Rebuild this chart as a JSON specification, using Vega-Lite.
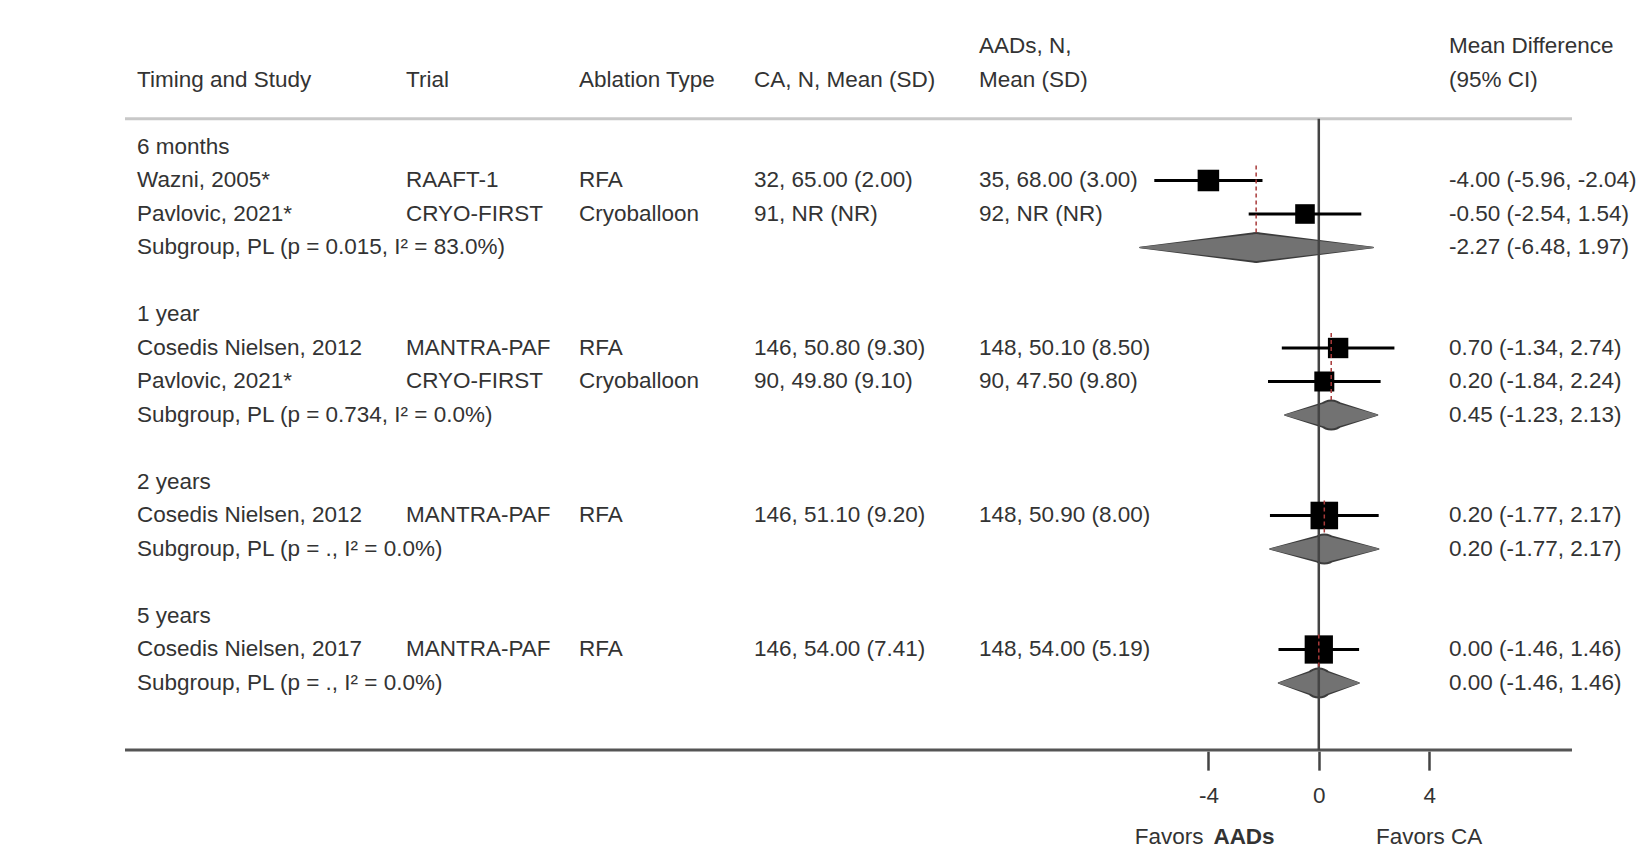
{
"$schema": "https://vega.github.io/schema/vega-lite/v6.json",
"background": "white",
"padding": {"left": 123, "top": 13, "right": 0, "bottom": 0},
"spacing": 0,
"bounds": "flush",
"config": {"view": {"stroke": null}, "text": {"font": "Liberation Sans", "fontSize": 22.5, "color": "#333333"}},
"datasets": {"rows": [
{"row": -2, "aad": "AADs, N,", "est_text": "Mean Difference"},
{"row": -1, "study": "Timing and Study", "trial": "Trial", "ablation": "Ablation Type", "ca": "CA, N, Mean (SD)", "aad": "Mean (SD)", "est_text": "(95% CI)"},
{"row": 1, "study": "6 months"},
{"row": 2, "type": "study", "study": "Wazni, 2005*", "trial": "RAAFT-1", "ablation": "RFA", "ca": "32, 65.00 (2.00)", "aad": "35, 68.00 (3.00)", "est_text": "-4.00 (-5.96, -2.04)", "est": -4.0, "lo": -5.96, "hi": -2.04, "weight": 58},
{"row": 3, "type": "study", "study": "Pavlovic, 2021*", "trial": "CRYO-FIRST", "ablation": "Cryoballoon", "ca": "91, NR (NR)", "aad": "92, NR (NR)", "est_text": "-0.50 (-2.54, 1.54)", "est": -0.5, "lo": -2.54, "hi": 1.54, "weight": 48},
{"row": 4, "type": "summary", "study": "Subgroup, PL (p = 0.015, I² = 83.0%)", "est_text": "-2.27 (-6.48, 1.97)", "est": -2.27, "lo": -6.48, "hi": 1.97, "first": 2},
{"row": 6, "study": "1 year"},
{"row": 7, "type": "study", "study": "Cosedis Nielsen, 2012", "trial": "MANTRA-PAF", "ablation": "RFA", "ca": "146, 50.80 (9.30)", "aad": "148, 50.10 (8.50)", "est_text": "0.70 (-1.34, 2.74)", "est": 0.7, "lo": -1.34, "hi": 2.74, "weight": 52},
{"row": 8, "type": "study", "study": "Pavlovic, 2021*", "trial": "CRYO-FIRST", "ablation": "Cryoballoon", "ca": "90, 49.80 (9.10)", "aad": "90, 47.50 (9.80)", "est_text": "0.20 (-1.84, 2.24)", "est": 0.2, "lo": -1.84, "hi": 2.24, "weight": 50},
{"row": 9, "type": "summary", "study": "Subgroup, PL (p = 0.734, I² = 0.0%)", "est_text": "0.45 (-1.23, 2.13)", "est": 0.45, "lo": -1.23, "hi": 2.13, "first": 7},
{"row": 11, "study": "2 years"},
{"row": 12, "type": "study", "study": "Cosedis Nielsen, 2012", "trial": "MANTRA-PAF", "ablation": "RFA", "ca": "146, 51.10 (9.20)", "aad": "148, 50.90 (8.00)", "est_text": "0.20 (-1.77, 2.17)", "est": 0.2, "lo": -1.77, "hi": 2.17, "weight": 95},
{"row": 13, "type": "summary", "study": "Subgroup, PL (p = ., I² = 0.0%)", "est_text": "0.20 (-1.77, 2.17)", "est": 0.2, "lo": -1.77, "hi": 2.17, "first": 12},
{"row": 15, "study": "5 years"},
{"row": 16, "type": "study", "study": "Cosedis Nielsen, 2017", "trial": "MANTRA-PAF", "ablation": "RFA", "ca": "146, 54.00 (7.41)", "aad": "148, 54.00 (5.19)", "est_text": "0.00 (-1.46, 1.46)", "est": 0.0, "lo": -1.46, "hi": 1.46, "weight": 100},
{"row": 17, "type": "summary", "study": "Subgroup, PL (p = ., I² = 0.0%)", "est_text": "0.00 (-1.46, 1.46)", "est": 0.0, "lo": -1.46, "hi": 1.46, "first": 16}
]},
"hconcat": [
{"width": 269, "height": 834.15, "data": {"name": "rows"}, "layer": [
 {"transform": [{"filter": "isValid(datum.study)"}], "mark": {"type": "text", "align": "left", "baseline": "middle", "dx": 12},
  "encoding": {"x": {"datum": 0, "type": "quantitative", "scale": {"domain": [0, 1]}, "axis": null},
   "y": {"field": "row", "type": "quantitative", "scale": {"domain": [-3, 21.9], "reverse": true, "nice": false, "zero": false}, "axis": null},
   "text": {"field": "study", "type": "nominal"}}},
 {"data": {"values": [{}]}, "mark": {"type": "rule", "color": "#c8c8c8", "strokeWidth": 3}, "encoding": {"y": {"datum": 0.16, "type": "quantitative", "scale": {"domain": [-3, 21.9], "reverse": true, "nice": false, "zero": false}, "axis": null}}},
 {"data": {"values": [{}]}, "mark": {"type": "rule", "color": "#555555", "strokeWidth": 3}, "encoding": {"y": {"datum": 19, "type": "quantitative", "scale": {"domain": [-3, 21.9], "reverse": true, "nice": false, "zero": false}, "axis": null}}}
]},
{"width": 173, "height": 834.15, "data": {"name": "rows"}, "layer": [
 {"transform": [{"filter": "isValid(datum.trial)"}], "mark": {"type": "text", "align": "left", "baseline": "middle", "dx": 12},
  "encoding": {"x": {"datum": 0, "type": "quantitative", "scale": {"domain": [0, 1]}, "axis": null},
   "y": {"field": "row", "type": "quantitative", "scale": {"domain": [-3, 21.9], "reverse": true, "nice": false, "zero": false}, "axis": null},
   "text": {"field": "trial", "type": "nominal"}}},
 {"data": {"values": [{}]}, "mark": {"type": "rule", "color": "#c8c8c8", "strokeWidth": 3}, "encoding": {"y": {"datum": 0.16, "type": "quantitative", "scale": {"domain": [-3, 21.9], "reverse": true, "nice": false, "zero": false}, "axis": null}}},
 {"data": {"values": [{}]}, "mark": {"type": "rule", "color": "#555555", "strokeWidth": 3}, "encoding": {"y": {"datum": 19, "type": "quantitative", "scale": {"domain": [-3, 21.9], "reverse": true, "nice": false, "zero": false}, "axis": null}}}
]},
{"width": 175, "height": 834.15, "data": {"name": "rows"}, "layer": [
 {"transform": [{"filter": "isValid(datum.ablation)"}], "mark": {"type": "text", "align": "left", "baseline": "middle", "dx": 12},
  "encoding": {"x": {"datum": 0, "type": "quantitative", "scale": {"domain": [0, 1]}, "axis": null},
   "y": {"field": "row", "type": "quantitative", "scale": {"domain": [-3, 21.9], "reverse": true, "nice": false, "zero": false}, "axis": null},
   "text": {"field": "ablation", "type": "nominal"}}},
 {"data": {"values": [{}]}, "mark": {"type": "rule", "color": "#c8c8c8", "strokeWidth": 3}, "encoding": {"y": {"datum": 0.16, "type": "quantitative", "scale": {"domain": [-3, 21.9], "reverse": true, "nice": false, "zero": false}, "axis": null}}},
 {"data": {"values": [{}]}, "mark": {"type": "rule", "color": "#555555", "strokeWidth": 3}, "encoding": {"y": {"datum": 19, "type": "quantitative", "scale": {"domain": [-3, 21.9], "reverse": true, "nice": false, "zero": false}, "axis": null}}}
]},
{"width": 225, "height": 834.15, "data": {"name": "rows"}, "layer": [
 {"transform": [{"filter": "isValid(datum.ca)"}], "mark": {"type": "text", "align": "left", "baseline": "middle", "dx": 12},
  "encoding": {"x": {"datum": 0, "type": "quantitative", "scale": {"domain": [0, 1]}, "axis": null},
   "y": {"field": "row", "type": "quantitative", "scale": {"domain": [-3, 21.9], "reverse": true, "nice": false, "zero": false}, "axis": null},
   "text": {"field": "ca", "type": "nominal"}}},
 {"data": {"values": [{}]}, "mark": {"type": "rule", "color": "#c8c8c8", "strokeWidth": 3}, "encoding": {"y": {"datum": 0.16, "type": "quantitative", "scale": {"domain": [-3, 21.9], "reverse": true, "nice": false, "zero": false}, "axis": null}}},
 {"data": {"values": [{}]}, "mark": {"type": "rule", "color": "#555555", "strokeWidth": 3}, "encoding": {"y": {"datum": 19, "type": "quantitative", "scale": {"domain": [-3, 21.9], "reverse": true, "nice": false, "zero": false}, "axis": null}}}
]},
{"width": 131, "height": 834.15, "data": {"name": "rows"}, "layer": [
 {"transform": [{"filter": "isValid(datum.aad)"}], "mark": {"type": "text", "align": "left", "baseline": "middle", "dx": 12},
  "encoding": {"x": {"datum": 0, "type": "quantitative", "scale": {"domain": [0, 1]}, "axis": null},
   "y": {"field": "row", "type": "quantitative", "scale": {"domain": [-3, 21.9], "reverse": true, "nice": false, "zero": false}, "axis": null},
   "text": {"field": "aad", "type": "nominal"}}},
 {"data": {"values": [{}]}, "mark": {"type": "rule", "color": "#c8c8c8", "strokeWidth": 3}, "encoding": {"y": {"datum": 0.16, "type": "quantitative", "scale": {"domain": [-3, 21.9], "reverse": true, "nice": false, "zero": false}, "axis": null}}},
 {"data": {"values": [{}]}, "mark": {"type": "rule", "color": "#555555", "strokeWidth": 3}, "encoding": {"y": {"datum": 19, "type": "quantitative", "scale": {"domain": [-3, 21.9], "reverse": true, "nice": false, "zero": false}, "axis": null}}}
]},
{"width": 345, "height": 834.15, "data": {"name": "rows"},
 "resolve": {"scale": {"size": "independent"}},
 "layer": [
 {"data": {"values": [{}]}, "mark": {"type": "rule", "color": "#c8c8c8", "strokeWidth": 3}, "encoding": {"y": {"datum": 0.16, "type": "quantitative", "scale": {"domain": [-3, 21.9], "reverse": true, "nice": false, "zero": false}, "axis": null}}},
 {"data": {"values": [{}]}, "mark": {"type": "rule", "color": "#555555", "strokeWidth": 3}, "encoding": {"y": {"datum": 19, "type": "quantitative", "scale": {"domain": [-3, 21.9], "reverse": true, "nice": false, "zero": false}, "axis": null}}},
 {"transform": [{"filter": "datum.type === 'summary'"}, {"fold": ["lo", "est", "hi"], "as": ["k", "v"]}],
  "mark": {"type": "trail", "color": "#3c3c3c"},
  "encoding": {
   "x": {"field": "v", "type": "quantitative", "scale": {"domain": [-8, 4.5], "nice": false, "zero": false}, "axis": {"values": [-4, 0, 4], "orient": "bottom", "offset": -96, "domain": false, "grid": false, "tickSize": 19, "tickWidth": 2.5, "tickColor": "#444444", "labelFont": "Liberation Sans", "labelFontSize": 22.5, "labelColor": "#333333", "labelBaseline": "middle", "labelPadding": 25, "labelExpr": "'' + datum.value", "title": null}},
   "y": {"field": "row", "type": "quantitative", "scale": {"domain": [-3, 21.9], "reverse": true, "nice": false, "zero": false}, "axis": null},
   "size": {"field": "k", "type": "nominal", "scale": {"type": "ordinal", "domain": ["lo", "est", "hi"], "range": [1.5, 31, 1.5]}, "legend": null},
   "detail": {"field": "row", "type": "nominal"},
   "order": {"field": "v", "type": "quantitative"}}},
 {"transform": [{"filter": "datum.type === 'summary'"}, {"fold": ["lo", "est", "hi"], "as": ["k", "v"]}],
  "mark": {"type": "trail", "color": "#727272"},
  "encoding": {
   "x": {"field": "v", "type": "quantitative", "scale": {"domain": [-8, 4.5], "nice": false, "zero": false}, "axis": {"values": [-4, 0, 4], "orient": "bottom", "offset": -96, "domain": false, "grid": false, "tickSize": 19, "tickWidth": 2.5, "tickColor": "#444444", "labelFont": "Liberation Sans", "labelFontSize": 22.5, "labelColor": "#333333", "labelBaseline": "middle", "labelPadding": 25, "labelExpr": "'' + datum.value", "title": null}},
   "y": {"field": "row", "type": "quantitative", "scale": {"domain": [-3, 21.9], "reverse": true, "nice": false, "zero": false}, "axis": null},
   "size": {"field": "k", "type": "nominal", "scale": {"type": "ordinal", "domain": ["lo", "est", "hi"], "range": [0, 27, 0]}, "legend": null},
   "detail": {"field": "row", "type": "nominal"},
   "order": {"field": "v", "type": "quantitative"}}},
 {"data": {"values": [{}]}, "mark": {"type": "rule", "color": "#444444", "strokeWidth": 2.5},
  "encoding": {
   "x": {"datum": 0, "type": "quantitative", "scale": {"domain": [-8, 4.5], "nice": false, "zero": false}, "axis": {"values": [-4, 0, 4], "orient": "bottom", "offset": -96, "domain": false, "grid": false, "tickSize": 19, "tickWidth": 2.5, "tickColor": "#444444", "labelFont": "Liberation Sans", "labelFontSize": 22.5, "labelColor": "#333333", "labelBaseline": "middle", "labelPadding": 25, "labelExpr": "'' + datum.value", "title": null}},
   "y": {"datum": 0.16, "type": "quantitative", "scale": {"domain": [-3, 21.9], "reverse": true, "nice": false, "zero": false}, "axis": null},
   "y2": {"datum": 19}}},
 {"transform": [{"filter": "datum.type === 'study'"}],
  "mark": {"type": "rule", "color": "#000000", "strokeWidth": 3},
  "encoding": {
   "x": {"field": "lo", "type": "quantitative", "scale": {"domain": [-8, 4.5], "nice": false, "zero": false}, "axis": {"values": [-4, 0, 4], "orient": "bottom", "offset": -96, "domain": false, "grid": false, "tickSize": 19, "tickWidth": 2.5, "tickColor": "#444444", "labelFont": "Liberation Sans", "labelFontSize": 22.5, "labelColor": "#333333", "labelBaseline": "middle", "labelPadding": 25, "labelExpr": "'' + datum.value", "title": null}},
   "x2": {"field": "hi"},
   "y": {"field": "row", "type": "quantitative", "scale": {"domain": [-3, 21.9], "reverse": true, "nice": false, "zero": false}, "axis": null}}},
 {"transform": [{"filter": "datum.type === 'study'"}],
  "mark": {"type": "point", "shape": "square", "filled": true, "color": "#000000", "opacity": 1},
  "encoding": {
   "x": {"field": "est", "type": "quantitative", "scale": {"domain": [-8, 4.5], "nice": false, "zero": false}, "axis": {"values": [-4, 0, 4], "orient": "bottom", "offset": -96, "domain": false, "grid": false, "tickSize": 19, "tickWidth": 2.5, "tickColor": "#444444", "labelFont": "Liberation Sans", "labelFontSize": 22.5, "labelColor": "#333333", "labelBaseline": "middle", "labelPadding": 25, "labelExpr": "'' + datum.value", "title": null}},
   "y": {"field": "row", "type": "quantitative", "scale": {"domain": [-3, 21.9], "reverse": true, "nice": false, "zero": false}, "axis": null},
   "size": {"field": "weight", "type": "quantitative", "scale": {"domain": [0, 100], "range": [0, 800], "zero": true}, "legend": null}}},
 {"transform": [{"filter": "datum.type === 'summary'"}],
  "mark": {"type": "rule", "color": "#a83a3a", "strokeWidth": 1.5, "strokeDash": [4, 3], "yOffset": -15, "y2Offset": -14},
  "encoding": {
   "x": {"field": "est", "type": "quantitative", "scale": {"domain": [-8, 4.5], "nice": false, "zero": false}, "axis": {"values": [-4, 0, 4], "orient": "bottom", "offset": -96, "domain": false, "grid": false, "tickSize": 19, "tickWidth": 2.5, "tickColor": "#444444", "labelFont": "Liberation Sans", "labelFontSize": 22.5, "labelColor": "#333333", "labelBaseline": "middle", "labelPadding": 25, "labelExpr": "'' + datum.value", "title": null}},
   "y": {"field": "first", "type": "quantitative", "scale": {"domain": [-3, 21.9], "reverse": true, "nice": false, "zero": false}, "axis": null},
   "y2": {"field": "row"}}},
 {"data": {"values": [{}]}, "mark": {"type": "text", "align": "right", "baseline": "middle", "dx": -5},
  "encoding": {"x": {"datum": -4, "type": "quantitative"}, "y": {"datum": 21.6, "type": "quantitative"}, "text": {"value": "Favors"}}},
 {"data": {"values": [{}]}, "mark": {"type": "text", "align": "left", "baseline": "middle", "dx": 5, "fontWeight": "bold"},
  "encoding": {"x": {"datum": -4, "type": "quantitative"}, "y": {"datum": 21.6, "type": "quantitative"}, "text": {"value": "AADs"}}},
 {"data": {"values": [{}]}, "mark": {"type": "text", "align": "center", "baseline": "middle"},
  "encoding": {"x": {"datum": 4, "type": "quantitative"}, "y": {"datum": 21.6, "type": "quantitative"}, "text": {"value": "Favors CA"}}}
]},
{"width": 129, "height": 834.15, "data": {"name": "rows"}, "layer": [
 {"transform": [{"filter": "isValid(datum.est_text)"}], "mark": {"type": "text", "align": "left", "baseline": "middle", "dx": 6},
  "encoding": {"x": {"datum": 0, "type": "quantitative", "scale": {"domain": [0, 1]}, "axis": null},
   "y": {"field": "row", "type": "quantitative", "scale": {"domain": [-3, 21.9], "reverse": true, "nice": false, "zero": false}, "axis": null},
   "text": {"field": "est_text", "type": "nominal"}}},
 {"data": {"values": [{}]}, "mark": {"type": "rule", "color": "#c8c8c8", "strokeWidth": 3}, "encoding": {"y": {"datum": 0.16, "type": "quantitative", "scale": {"domain": [-3, 21.9], "reverse": true, "nice": false, "zero": false}, "axis": null}}},
 {"data": {"values": [{}]}, "mark": {"type": "rule", "color": "#555555", "strokeWidth": 3}, "encoding": {"y": {"datum": 19, "type": "quantitative", "scale": {"domain": [-3, 21.9], "reverse": true, "nice": false, "zero": false}, "axis": null}}}
]}
]
}
